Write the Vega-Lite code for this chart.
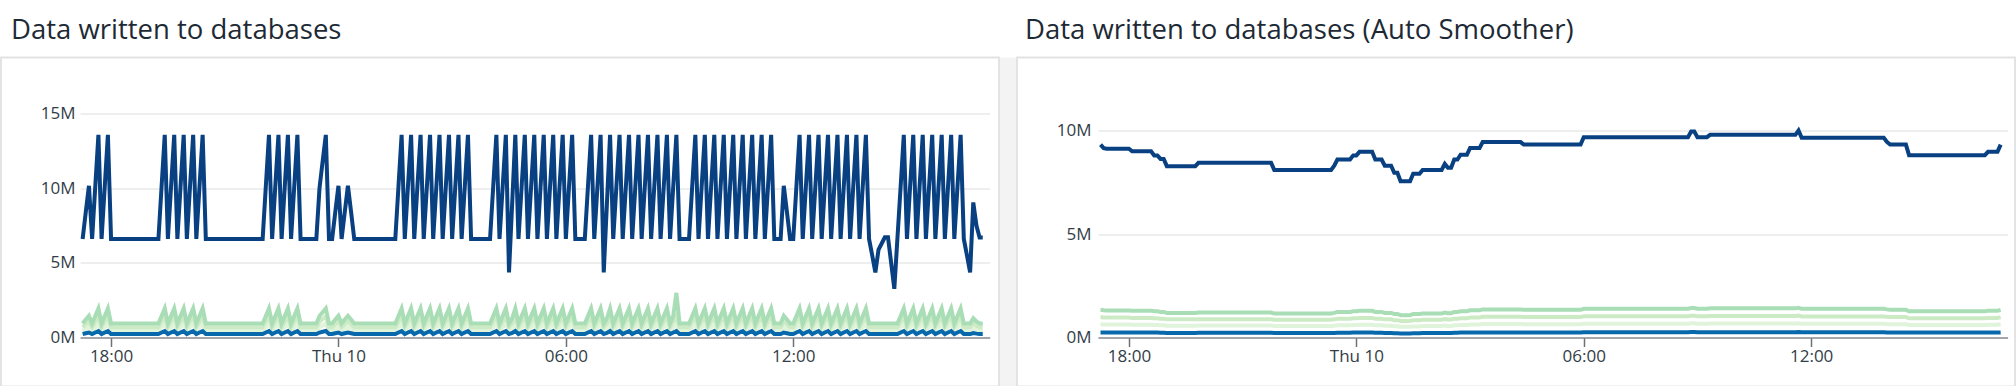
{
  "$schema": "https://vega.github.io/schema/vega-lite/v6.json",
  "background": "white",
  "padding": {"left": 0, "right": 0, "top": 15.5, "bottom": 0},
  "spacing": 0,
  "config": {
    "font": "Open Sans",
    "view": {"stroke": null},
    "title": {"font": "Open Sans", "fontSize": 27.5, "fontWeight": "normal", "color": "#1d2a35", "anchor": "start", "frame": "group", "baseline": "bottom", "offset": 13},
    "axis": {"labelFont": "Open Sans", "labelFontSize": 17, "labelColor": "#333d47", "title": null}
  },
  "datasets": {
    "left": [
      {"t":"2020-09-09T17:15Z","a":0.46,"b":0.71,"c":0.96,"d":0.25,"e":6.6},
      {"t":"2020-09-09T17:20Z","a":0.59,"b":0.9,"c":1.22,"d":0.3,"e":8.4},
      {"t":"2020-09-09T17:25Z","a":0.71,"b":1.09,"c":1.47,"d":0.35,"e":10.15},
      {"t":"2020-09-09T17:30Z","a":0.46,"b":0.71,"c":0.96,"d":0.25,"e":6.6},
      {"t":"2020-09-09T17:35Z","a":0.71,"b":1.08,"c":1.46,"d":0.35,"e":10.1},
      {"t":"2020-09-09T17:40Z","a":0.95,"b":1.45,"c":1.96,"d":0.45,"e":13.55},
      {"t":"2020-09-09T17:45Z","a":0.46,"b":0.71,"c":0.96,"d":0.25,"e":6.6},
      {"t":"2020-09-09T17:50Z","a":0.71,"b":1.08,"c":1.46,"d":0.35,"e":10.1},
      {"t":"2020-09-09T17:55Z","a":0.95,"b":1.45,"c":1.96,"d":0.45,"e":13.55},
      {"t":"2020-09-09T18:00Z","a":0.46,"b":0.71,"c":0.96,"d":0.25,"e":6.6},
      {"t":"2020-09-09T19:15Z","a":0.46,"b":0.71,"c":0.96,"d":0.25,"e":6.6},
      {"t":"2020-09-09T19:20Z","a":0.71,"b":1.08,"c":1.46,"d":0.35,"e":10.1},
      {"t":"2020-09-09T19:25Z","a":0.95,"b":1.45,"c":1.96,"d":0.45,"e":13.55},
      {"t":"2020-09-09T19:30Z","a":0.46,"b":0.71,"c":0.96,"d":0.25,"e":6.6},
      {"t":"2020-09-09T19:35Z","a":0.71,"b":1.08,"c":1.46,"d":0.35,"e":10.1},
      {"t":"2020-09-09T19:40Z","a":0.95,"b":1.45,"c":1.96,"d":0.45,"e":13.55},
      {"t":"2020-09-09T19:45Z","a":0.46,"b":0.71,"c":0.96,"d":0.25,"e":6.6},
      {"t":"2020-09-09T19:50Z","a":0.71,"b":1.08,"c":1.46,"d":0.35,"e":10.1},
      {"t":"2020-09-09T19:55Z","a":0.95,"b":1.45,"c":1.96,"d":0.45,"e":13.55},
      {"t":"2020-09-09T20:00Z","a":0.46,"b":0.71,"c":0.96,"d":0.25,"e":6.6},
      {"t":"2020-09-09T20:05Z","a":0.71,"b":1.08,"c":1.46,"d":0.35,"e":10.1},
      {"t":"2020-09-09T20:10Z","a":0.95,"b":1.45,"c":1.96,"d":0.45,"e":13.55},
      {"t":"2020-09-09T20:15Z","a":0.46,"b":0.71,"c":0.96,"d":0.25,"e":6.6},
      {"t":"2020-09-09T20:20Z","a":0.71,"b":1.08,"c":1.46,"d":0.35,"e":10.1},
      {"t":"2020-09-09T20:25Z","a":0.95,"b":1.45,"c":1.96,"d":0.45,"e":13.55},
      {"t":"2020-09-09T20:30Z","a":0.46,"b":0.71,"c":0.96,"d":0.25,"e":6.6},
      {"t":"2020-09-09T22:00Z","a":0.46,"b":0.71,"c":0.96,"d":0.25,"e":6.6},
      {"t":"2020-09-09T22:05Z","a":0.71,"b":1.08,"c":1.46,"d":0.35,"e":10.1},
      {"t":"2020-09-09T22:10Z","a":0.95,"b":1.45,"c":1.96,"d":0.45,"e":13.55},
      {"t":"2020-09-09T22:15Z","a":0.46,"b":0.71,"c":0.96,"d":0.25,"e":6.6},
      {"t":"2020-09-09T22:20Z","a":0.71,"b":1.08,"c":1.46,"d":0.35,"e":10.1},
      {"t":"2020-09-09T22:25Z","a":0.95,"b":1.45,"c":1.96,"d":0.45,"e":13.55},
      {"t":"2020-09-09T22:30Z","a":0.46,"b":0.71,"c":0.96,"d":0.25,"e":6.6},
      {"t":"2020-09-09T22:35Z","a":0.71,"b":1.08,"c":1.46,"d":0.35,"e":10.1},
      {"t":"2020-09-09T22:40Z","a":0.95,"b":1.45,"c":1.96,"d":0.45,"e":13.55},
      {"t":"2020-09-09T22:45Z","a":0.46,"b":0.71,"c":0.96,"d":0.25,"e":6.6},
      {"t":"2020-09-09T22:50Z","a":0.71,"b":1.08,"c":1.46,"d":0.35,"e":10.1},
      {"t":"2020-09-09T22:55Z","a":0.95,"b":1.45,"c":1.96,"d":0.45,"e":13.55},
      {"t":"2020-09-09T23:00Z","a":0.46,"b":0.71,"c":0.96,"d":0.25,"e":6.6},
      {"t":"2020-09-09T23:25Z","a":0.46,"b":0.71,"c":0.96,"d":0.25,"e":6.6},
      {"t":"2020-09-09T23:30Z","a":0.7,"b":1.07,"c":1.45,"d":0.35,"e":10.0},
      {"t":"2020-09-09T23:35Z","a":0.83,"b":1.26,"c":1.71,"d":0.4,"e":11.8},
      {"t":"2020-09-09T23:40Z","a":0.95,"b":1.45,"c":1.96,"d":0.45,"e":13.55},
      {"t":"2020-09-09T23:45Z","a":0.46,"b":0.71,"c":0.96,"d":0.25,"e":6.6},
      {"t":"2020-09-09T23:50Z","a":0.46,"b":0.71,"c":0.96,"d":0.25,"e":6.6},
      {"t":"2020-09-09T23:55Z","a":0.59,"b":0.9,"c":1.22,"d":0.3,"e":8.4},
      {"t":"2020-09-10T00:00Z","a":0.71,"b":1.09,"c":1.47,"d":0.35,"e":10.15},
      {"t":"2020-09-10T00:05Z","a":0.46,"b":0.71,"c":0.96,"d":0.25,"e":6.6},
      {"t":"2020-09-10T00:10Z","a":0.59,"b":0.9,"c":1.22,"d":0.3,"e":8.4},
      {"t":"2020-09-10T00:15Z","a":0.71,"b":1.09,"c":1.47,"d":0.35,"e":10.15},
      {"t":"2020-09-10T00:20Z","a":0.59,"b":0.9,"c":1.22,"d":0.3,"e":8.4},
      {"t":"2020-09-10T00:25Z","a":0.46,"b":0.71,"c":0.96,"d":0.25,"e":6.6},
      {"t":"2020-09-10T01:30Z","a":0.46,"b":0.71,"c":0.96,"d":0.25,"e":6.6},
      {"t":"2020-09-10T01:35Z","a":0.71,"b":1.08,"c":1.46,"d":0.35,"e":10.1},
      {"t":"2020-09-10T01:40Z","a":0.95,"b":1.45,"c":1.96,"d":0.45,"e":13.55},
      {"t":"2020-09-10T01:45Z","a":0.46,"b":0.71,"c":0.96,"d":0.25,"e":6.6},
      {"t":"2020-09-10T01:50Z","a":0.71,"b":1.08,"c":1.46,"d":0.35,"e":10.1},
      {"t":"2020-09-10T01:55Z","a":0.95,"b":1.45,"c":1.96,"d":0.45,"e":13.55},
      {"t":"2020-09-10T02:00Z","a":0.46,"b":0.71,"c":0.96,"d":0.25,"e":6.6},
      {"t":"2020-09-10T02:05Z","a":0.71,"b":1.08,"c":1.46,"d":0.35,"e":10.1},
      {"t":"2020-09-10T02:10Z","a":0.95,"b":1.45,"c":1.96,"d":0.45,"e":13.55},
      {"t":"2020-09-10T02:15Z","a":0.46,"b":0.71,"c":0.96,"d":0.25,"e":6.6},
      {"t":"2020-09-10T02:20Z","a":0.71,"b":1.08,"c":1.46,"d":0.35,"e":10.1},
      {"t":"2020-09-10T02:25Z","a":0.95,"b":1.45,"c":1.96,"d":0.45,"e":13.55},
      {"t":"2020-09-10T02:30Z","a":0.46,"b":0.71,"c":0.96,"d":0.25,"e":6.6},
      {"t":"2020-09-10T02:35Z","a":0.71,"b":1.08,"c":1.46,"d":0.35,"e":10.1},
      {"t":"2020-09-10T02:40Z","a":0.95,"b":1.45,"c":1.96,"d":0.45,"e":13.55},
      {"t":"2020-09-10T02:45Z","a":0.46,"b":0.71,"c":0.96,"d":0.25,"e":6.6},
      {"t":"2020-09-10T02:50Z","a":0.71,"b":1.08,"c":1.46,"d":0.35,"e":10.1},
      {"t":"2020-09-10T02:55Z","a":0.95,"b":1.45,"c":1.96,"d":0.45,"e":13.55},
      {"t":"2020-09-10T03:00Z","a":0.46,"b":0.71,"c":0.96,"d":0.25,"e":6.6},
      {"t":"2020-09-10T03:05Z","a":0.71,"b":1.08,"c":1.46,"d":0.35,"e":10.1},
      {"t":"2020-09-10T03:10Z","a":0.95,"b":1.45,"c":1.96,"d":0.45,"e":13.55},
      {"t":"2020-09-10T03:15Z","a":0.46,"b":0.71,"c":0.96,"d":0.25,"e":6.6},
      {"t":"2020-09-10T03:20Z","a":0.71,"b":1.08,"c":1.46,"d":0.35,"e":10.1},
      {"t":"2020-09-10T03:25Z","a":0.95,"b":1.45,"c":1.96,"d":0.45,"e":13.55},
      {"t":"2020-09-10T03:30Z","a":0.46,"b":0.71,"c":0.96,"d":0.25,"e":6.6},
      {"t":"2020-09-10T04:00Z","a":0.46,"b":0.71,"c":0.96,"d":0.25,"e":6.6},
      {"t":"2020-09-10T04:05Z","a":0.71,"b":1.08,"c":1.46,"d":0.35,"e":10.1},
      {"t":"2020-09-10T04:10Z","a":0.95,"b":1.45,"c":1.96,"d":0.45,"e":13.55},
      {"t":"2020-09-10T04:15Z","a":0.46,"b":0.71,"c":0.96,"d":0.25,"e":6.6},
      {"t":"2020-09-10T04:20Z","a":0.71,"b":1.08,"c":1.46,"d":0.35,"e":10.1},
      {"t":"2020-09-10T04:25Z","a":0.95,"b":1.45,"c":1.96,"d":0.45,"e":13.55},
      {"t":"2020-09-10T04:30Z","a":0.46,"b":0.71,"c":0.96,"d":0.25,"e":4.37},
      {"t":"2020-09-10T04:35Z","a":0.63,"b":0.96,"c":1.3,"d":0.32,"e":8.96},
      {"t":"2020-09-10T04:40Z","a":0.95,"b":1.45,"c":1.96,"d":0.45,"e":13.55},
      {"t":"2020-09-10T04:45Z","a":0.46,"b":0.71,"c":0.96,"d":0.25,"e":6.6},
      {"t":"2020-09-10T04:50Z","a":0.71,"b":1.08,"c":1.46,"d":0.35,"e":10.1},
      {"t":"2020-09-10T04:55Z","a":0.95,"b":1.45,"c":1.96,"d":0.45,"e":13.55},
      {"t":"2020-09-10T05:00Z","a":0.46,"b":0.71,"c":0.96,"d":0.25,"e":6.6},
      {"t":"2020-09-10T05:05Z","a":0.71,"b":1.08,"c":1.46,"d":0.35,"e":10.1},
      {"t":"2020-09-10T05:10Z","a":0.95,"b":1.45,"c":1.96,"d":0.45,"e":13.55},
      {"t":"2020-09-10T05:15Z","a":0.46,"b":0.71,"c":0.96,"d":0.25,"e":6.6},
      {"t":"2020-09-10T05:20Z","a":0.71,"b":1.08,"c":1.46,"d":0.35,"e":10.1},
      {"t":"2020-09-10T05:25Z","a":0.95,"b":1.45,"c":1.96,"d":0.45,"e":13.55},
      {"t":"2020-09-10T05:30Z","a":0.46,"b":0.71,"c":0.96,"d":0.25,"e":6.6},
      {"t":"2020-09-10T05:35Z","a":0.71,"b":1.08,"c":1.46,"d":0.35,"e":10.1},
      {"t":"2020-09-10T05:40Z","a":0.95,"b":1.45,"c":1.96,"d":0.45,"e":13.55},
      {"t":"2020-09-10T05:45Z","a":0.46,"b":0.71,"c":0.96,"d":0.25,"e":6.6},
      {"t":"2020-09-10T05:50Z","a":0.71,"b":1.08,"c":1.46,"d":0.35,"e":10.1},
      {"t":"2020-09-10T05:55Z","a":0.95,"b":1.45,"c":1.96,"d":0.45,"e":13.55},
      {"t":"2020-09-10T06:00Z","a":0.46,"b":0.71,"c":0.96,"d":0.25,"e":6.6},
      {"t":"2020-09-10T06:05Z","a":0.71,"b":1.08,"c":1.46,"d":0.35,"e":10.1},
      {"t":"2020-09-10T06:10Z","a":0.95,"b":1.45,"c":1.96,"d":0.45,"e":13.55},
      {"t":"2020-09-10T06:15Z","a":0.46,"b":0.71,"c":0.96,"d":0.25,"e":6.6},
      {"t":"2020-09-10T06:30Z","a":0.46,"b":0.71,"c":0.96,"d":0.25,"e":6.6},
      {"t":"2020-09-10T06:35Z","a":0.71,"b":1.08,"c":1.46,"d":0.35,"e":10.1},
      {"t":"2020-09-10T06:40Z","a":0.95,"b":1.45,"c":1.96,"d":0.45,"e":13.55},
      {"t":"2020-09-10T06:45Z","a":0.46,"b":0.71,"c":0.96,"d":0.25,"e":6.6},
      {"t":"2020-09-10T06:50Z","a":0.71,"b":1.08,"c":1.46,"d":0.35,"e":10.1},
      {"t":"2020-09-10T06:55Z","a":0.95,"b":1.45,"c":1.96,"d":0.45,"e":13.55},
      {"t":"2020-09-10T07:00Z","a":0.46,"b":0.71,"c":0.96,"d":0.25,"e":4.37},
      {"t":"2020-09-10T07:05Z","a":0.63,"b":0.96,"c":1.3,"d":0.32,"e":8.96},
      {"t":"2020-09-10T07:10Z","a":0.95,"b":1.45,"c":1.96,"d":0.45,"e":13.55},
      {"t":"2020-09-10T07:15Z","a":0.46,"b":0.71,"c":0.96,"d":0.25,"e":6.6},
      {"t":"2020-09-10T07:20Z","a":0.71,"b":1.08,"c":1.46,"d":0.35,"e":10.1},
      {"t":"2020-09-10T07:25Z","a":0.95,"b":1.45,"c":1.96,"d":0.45,"e":13.55},
      {"t":"2020-09-10T07:30Z","a":0.46,"b":0.71,"c":0.96,"d":0.25,"e":6.6},
      {"t":"2020-09-10T07:35Z","a":0.71,"b":1.08,"c":1.46,"d":0.35,"e":10.1},
      {"t":"2020-09-10T07:40Z","a":0.95,"b":1.45,"c":1.96,"d":0.45,"e":13.55},
      {"t":"2020-09-10T07:45Z","a":0.46,"b":0.71,"c":0.96,"d":0.25,"e":6.6},
      {"t":"2020-09-10T07:50Z","a":0.71,"b":1.08,"c":1.46,"d":0.35,"e":10.1},
      {"t":"2020-09-10T07:55Z","a":0.95,"b":1.45,"c":1.96,"d":0.45,"e":13.55},
      {"t":"2020-09-10T08:00Z","a":0.46,"b":0.71,"c":0.96,"d":0.25,"e":6.6},
      {"t":"2020-09-10T08:05Z","a":0.71,"b":1.08,"c":1.46,"d":0.35,"e":10.1},
      {"t":"2020-09-10T08:10Z","a":0.95,"b":1.45,"c":1.96,"d":0.45,"e":13.55},
      {"t":"2020-09-10T08:15Z","a":0.46,"b":0.71,"c":0.96,"d":0.25,"e":6.6},
      {"t":"2020-09-10T08:20Z","a":0.71,"b":1.08,"c":1.46,"d":0.35,"e":10.1},
      {"t":"2020-09-10T08:25Z","a":0.95,"b":1.45,"c":1.96,"d":0.45,"e":13.55},
      {"t":"2020-09-10T08:30Z","a":0.46,"b":0.71,"c":0.96,"d":0.25,"e":6.6},
      {"t":"2020-09-10T08:35Z","a":0.71,"b":1.08,"c":1.46,"d":0.35,"e":10.1},
      {"t":"2020-09-10T08:40Z","a":0.95,"b":1.45,"c":1.96,"d":0.45,"e":13.55},
      {"t":"2020-09-10T08:45Z","a":0.46,"b":0.71,"c":0.96,"d":0.25,"e":6.6},
      {"t":"2020-09-10T08:50Z","a":0.71,"b":1.08,"c":1.46,"d":0.35,"e":10.1},
      {"t":"2020-09-10T08:55Z","a":0.95,"b":1.45,"c":3.0,"d":0.45,"e":13.55},
      {"t":"2020-09-10T09:00Z","a":0.46,"b":0.71,"c":0.96,"d":0.25,"e":6.6},
      {"t":"2020-09-10T09:15Z","a":0.46,"b":0.71,"c":0.96,"d":0.25,"e":6.6},
      {"t":"2020-09-10T09:20Z","a":0.71,"b":1.08,"c":1.46,"d":0.35,"e":10.1},
      {"t":"2020-09-10T09:25Z","a":0.95,"b":1.45,"c":1.96,"d":0.45,"e":13.55},
      {"t":"2020-09-10T09:30Z","a":0.46,"b":0.71,"c":0.96,"d":0.25,"e":6.6},
      {"t":"2020-09-10T09:35Z","a":0.71,"b":1.08,"c":1.46,"d":0.35,"e":10.1},
      {"t":"2020-09-10T09:40Z","a":0.95,"b":1.45,"c":1.96,"d":0.45,"e":13.55},
      {"t":"2020-09-10T09:45Z","a":0.46,"b":0.71,"c":0.96,"d":0.25,"e":6.6},
      {"t":"2020-09-10T09:50Z","a":0.71,"b":1.08,"c":1.46,"d":0.35,"e":10.1},
      {"t":"2020-09-10T09:55Z","a":0.95,"b":1.45,"c":1.96,"d":0.45,"e":13.55},
      {"t":"2020-09-10T10:00Z","a":0.46,"b":0.71,"c":0.96,"d":0.25,"e":6.6},
      {"t":"2020-09-10T10:05Z","a":0.71,"b":1.08,"c":1.46,"d":0.35,"e":10.1},
      {"t":"2020-09-10T10:10Z","a":0.95,"b":1.45,"c":1.96,"d":0.45,"e":13.55},
      {"t":"2020-09-10T10:15Z","a":0.46,"b":0.71,"c":0.96,"d":0.25,"e":6.6},
      {"t":"2020-09-10T10:20Z","a":0.71,"b":1.08,"c":1.46,"d":0.35,"e":10.1},
      {"t":"2020-09-10T10:25Z","a":0.95,"b":1.45,"c":1.96,"d":0.45,"e":13.55},
      {"t":"2020-09-10T10:30Z","a":0.46,"b":0.71,"c":0.96,"d":0.25,"e":6.6},
      {"t":"2020-09-10T10:35Z","a":0.71,"b":1.08,"c":1.46,"d":0.35,"e":10.1},
      {"t":"2020-09-10T10:40Z","a":0.95,"b":1.45,"c":1.96,"d":0.45,"e":13.55},
      {"t":"2020-09-10T10:45Z","a":0.46,"b":0.71,"c":0.96,"d":0.25,"e":6.6},
      {"t":"2020-09-10T10:50Z","a":0.71,"b":1.08,"c":1.46,"d":0.35,"e":10.1},
      {"t":"2020-09-10T10:55Z","a":0.95,"b":1.45,"c":1.96,"d":0.45,"e":13.55},
      {"t":"2020-09-10T11:00Z","a":0.46,"b":0.71,"c":0.96,"d":0.25,"e":6.6},
      {"t":"2020-09-10T11:05Z","a":0.71,"b":1.08,"c":1.46,"d":0.35,"e":10.1},
      {"t":"2020-09-10T11:10Z","a":0.95,"b":1.45,"c":1.96,"d":0.45,"e":13.55},
      {"t":"2020-09-10T11:15Z","a":0.46,"b":0.71,"c":0.96,"d":0.25,"e":6.6},
      {"t":"2020-09-10T11:20Z","a":0.71,"b":1.08,"c":1.46,"d":0.35,"e":10.1},
      {"t":"2020-09-10T11:25Z","a":0.95,"b":1.45,"c":1.96,"d":0.45,"e":13.55},
      {"t":"2020-09-10T11:30Z","a":0.46,"b":0.71,"c":0.96,"d":0.25,"e":6.6},
      {"t":"2020-09-10T11:40Z","a":0.46,"b":0.71,"c":0.96,"d":0.25,"e":6.6},
      {"t":"2020-09-10T11:45Z","a":0.71,"b":1.09,"c":1.47,"d":0.35,"e":10.15},
      {"t":"2020-09-10T11:50Z","a":0.59,"b":0.9,"c":1.22,"d":0.3,"e":8.4},
      {"t":"2020-09-10T11:55Z","a":0.46,"b":0.71,"c":0.96,"d":0.25,"e":6.6},
      {"t":"2020-09-10T12:00Z","a":0.46,"b":0.71,"c":0.96,"d":0.25,"e":6.6},
      {"t":"2020-09-10T12:05Z","a":0.71,"b":1.08,"c":1.46,"d":0.35,"e":10.1},
      {"t":"2020-09-10T12:10Z","a":0.95,"b":1.45,"c":1.96,"d":0.45,"e":13.55},
      {"t":"2020-09-10T12:15Z","a":0.46,"b":0.71,"c":0.96,"d":0.25,"e":6.6},
      {"t":"2020-09-10T12:20Z","a":0.71,"b":1.08,"c":1.46,"d":0.35,"e":10.1},
      {"t":"2020-09-10T12:25Z","a":0.95,"b":1.45,"c":1.96,"d":0.45,"e":13.55},
      {"t":"2020-09-10T12:30Z","a":0.46,"b":0.71,"c":0.96,"d":0.25,"e":6.6},
      {"t":"2020-09-10T12:35Z","a":0.71,"b":1.08,"c":1.46,"d":0.35,"e":10.1},
      {"t":"2020-09-10T12:40Z","a":0.95,"b":1.45,"c":1.96,"d":0.45,"e":13.55},
      {"t":"2020-09-10T12:45Z","a":0.46,"b":0.71,"c":0.96,"d":0.25,"e":6.6},
      {"t":"2020-09-10T12:50Z","a":0.71,"b":1.08,"c":1.46,"d":0.35,"e":10.1},
      {"t":"2020-09-10T12:55Z","a":0.95,"b":1.45,"c":1.96,"d":0.45,"e":13.55},
      {"t":"2020-09-10T13:00Z","a":0.46,"b":0.71,"c":0.96,"d":0.25,"e":6.6},
      {"t":"2020-09-10T13:05Z","a":0.71,"b":1.08,"c":1.46,"d":0.35,"e":10.1},
      {"t":"2020-09-10T13:10Z","a":0.95,"b":1.45,"c":1.96,"d":0.45,"e":13.55},
      {"t":"2020-09-10T13:15Z","a":0.46,"b":0.71,"c":0.96,"d":0.25,"e":6.6},
      {"t":"2020-09-10T13:20Z","a":0.71,"b":1.08,"c":1.46,"d":0.35,"e":10.1},
      {"t":"2020-09-10T13:25Z","a":0.95,"b":1.45,"c":1.96,"d":0.45,"e":13.55},
      {"t":"2020-09-10T13:30Z","a":0.46,"b":0.71,"c":0.96,"d":0.25,"e":6.6},
      {"t":"2020-09-10T13:35Z","a":0.71,"b":1.08,"c":1.46,"d":0.35,"e":10.1},
      {"t":"2020-09-10T13:40Z","a":0.95,"b":1.45,"c":1.96,"d":0.45,"e":13.55},
      {"t":"2020-09-10T13:45Z","a":0.46,"b":0.71,"c":0.96,"d":0.25,"e":6.6},
      {"t":"2020-09-10T13:50Z","a":0.71,"b":1.08,"c":1.46,"d":0.35,"e":10.1},
      {"t":"2020-09-10T13:55Z","a":0.95,"b":1.45,"c":1.96,"d":0.45,"e":13.55},
      {"t":"2020-09-10T14:00Z","a":0.46,"b":0.71,"c":0.96,"d":0.25,"e":6.6},
      {"t":"2020-09-10T14:05Z","a":0.46,"b":0.71,"c":0.96,"d":0.25,"e":5.5},
      {"t":"2020-09-10T14:10Z","a":0.46,"b":0.71,"c":0.96,"d":0.25,"e":4.37},
      {"t":"2020-09-10T14:15Z","a":0.46,"b":0.71,"c":0.96,"d":0.25,"e":5.89},
      {"t":"2020-09-10T14:20Z","a":0.46,"b":0.71,"c":0.96,"d":0.25,"e":6.3},
      {"t":"2020-09-10T14:25Z","a":0.46,"b":0.71,"c":0.96,"d":0.25,"e":6.71},
      {"t":"2020-09-10T14:30Z","a":0.46,"b":0.71,"c":0.96,"d":0.25,"e":6.71},
      {"t":"2020-09-10T14:35Z","a":0.46,"b":0.71,"c":0.96,"d":0.25,"e":5.0},
      {"t":"2020-09-10T14:40Z","a":0.46,"b":0.71,"c":0.96,"d":0.25,"e":3.27},
      {"t":"2020-09-10T14:45Z","a":0.46,"b":0.71,"c":0.96,"d":0.25,"e":6.7},
      {"t":"2020-09-10T14:50Z","a":0.71,"b":1.08,"c":1.46,"d":0.35,"e":10.1},
      {"t":"2020-09-10T14:55Z","a":0.95,"b":1.45,"c":1.96,"d":0.45,"e":13.55},
      {"t":"2020-09-10T15:00Z","a":0.46,"b":0.71,"c":0.96,"d":0.25,"e":6.6},
      {"t":"2020-09-10T15:05Z","a":0.71,"b":1.08,"c":1.46,"d":0.35,"e":10.1},
      {"t":"2020-09-10T15:10Z","a":0.95,"b":1.45,"c":1.96,"d":0.45,"e":13.55},
      {"t":"2020-09-10T15:15Z","a":0.46,"b":0.71,"c":0.96,"d":0.25,"e":6.6},
      {"t":"2020-09-10T15:20Z","a":0.71,"b":1.08,"c":1.46,"d":0.35,"e":10.1},
      {"t":"2020-09-10T15:25Z","a":0.95,"b":1.45,"c":1.96,"d":0.45,"e":13.55},
      {"t":"2020-09-10T15:30Z","a":0.46,"b":0.71,"c":0.96,"d":0.25,"e":6.6},
      {"t":"2020-09-10T15:35Z","a":0.71,"b":1.08,"c":1.46,"d":0.35,"e":10.1},
      {"t":"2020-09-10T15:40Z","a":0.95,"b":1.45,"c":1.96,"d":0.45,"e":13.55},
      {"t":"2020-09-10T15:45Z","a":0.46,"b":0.71,"c":0.96,"d":0.25,"e":6.6},
      {"t":"2020-09-10T15:50Z","a":0.71,"b":1.08,"c":1.46,"d":0.35,"e":10.1},
      {"t":"2020-09-10T15:55Z","a":0.95,"b":1.45,"c":1.96,"d":0.45,"e":13.55},
      {"t":"2020-09-10T16:00Z","a":0.46,"b":0.71,"c":0.96,"d":0.25,"e":6.6},
      {"t":"2020-09-10T16:05Z","a":0.71,"b":1.08,"c":1.46,"d":0.35,"e":10.1},
      {"t":"2020-09-10T16:10Z","a":0.95,"b":1.45,"c":1.96,"d":0.45,"e":13.55},
      {"t":"2020-09-10T16:15Z","a":0.46,"b":0.71,"c":0.96,"d":0.25,"e":6.6},
      {"t":"2020-09-10T16:20Z","a":0.71,"b":1.08,"c":1.46,"d":0.35,"e":10.1},
      {"t":"2020-09-10T16:25Z","a":0.95,"b":1.45,"c":1.96,"d":0.45,"e":13.55},
      {"t":"2020-09-10T16:30Z","a":0.46,"b":0.71,"c":0.96,"d":0.25,"e":6.6},
      {"t":"2020-09-10T16:35Z","a":0.46,"b":0.71,"c":0.96,"d":0.25,"e":5.5},
      {"t":"2020-09-10T16:40Z","a":0.46,"b":0.71,"c":0.96,"d":0.25,"e":4.37},
      {"t":"2020-09-10T16:45Z","a":0.63,"b":0.97,"c":1.31,"d":0.32,"e":9.04},
      {"t":"2020-09-10T16:50Z","a":0.53,"b":0.8,"c":1.09,"d":0.28,"e":7.5},
      {"t":"2020-09-10T16:55Z","a":0.46,"b":0.71,"c":0.96,"d":0.25,"e":6.7},
      {"t":"2020-09-10T17:00Z","a":0.46,"b":0.71,"c":0.96,"d":0.25,"e":6.7}
    ],
    "right": [
      {"t":"2020-09-09T17:15Z","a":0.65,"b":1.0,"c":1.35,"d":0.26,"e":9.32},
      {"t":"2020-09-09T17:20Z","a":0.64,"b":0.98,"c":1.33,"d":0.26,"e":9.15},
      {"t":"2020-09-09T17:25Z","a":0.64,"b":0.98,"c":1.32,"d":0.26,"e":9.12},
      {"t":"2020-09-09T18:00Z","a":0.64,"b":0.98,"c":1.32,"d":0.26,"e":9.12},
      {"t":"2020-09-09T18:05Z","a":0.63,"b":0.96,"c":1.31,"d":0.25,"e":9.0},
      {"t":"2020-09-09T18:35Z","a":0.63,"b":0.96,"c":1.31,"d":0.25,"e":9.0},
      {"t":"2020-09-09T18:40Z","a":0.62,"b":0.94,"c":1.28,"d":0.25,"e":8.8},
      {"t":"2020-09-09T18:45Z","a":0.62,"b":0.94,"c":1.28,"d":0.25,"e":8.8},
      {"t":"2020-09-09T18:50Z","a":0.6,"b":0.92,"c":1.25,"d":0.24,"e":8.63},
      {"t":"2020-09-09T18:55Z","a":0.6,"b":0.92,"c":1.25,"d":0.24,"e":8.63},
      {"t":"2020-09-09T19:00Z","a":0.58,"b":0.89,"c":1.2,"d":0.23,"e":8.28},
      {"t":"2020-09-09T19:45Z","a":0.58,"b":0.89,"c":1.2,"d":0.23,"e":8.28},
      {"t":"2020-09-09T19:50Z","a":0.59,"b":0.9,"c":1.22,"d":0.24,"e":8.44},
      {"t":"2020-09-09T21:45Z","a":0.59,"b":0.9,"c":1.22,"d":0.24,"e":8.44},
      {"t":"2020-09-09T21:50Z","a":0.57,"b":0.87,"c":1.17,"d":0.23,"e":8.1},
      {"t":"2020-09-09T23:20Z","a":0.57,"b":0.87,"c":1.17,"d":0.23,"e":8.1},
      {"t":"2020-09-09T23:25Z","a":0.58,"b":0.89,"c":1.2,"d":0.23,"e":8.3},
      {"t":"2020-09-09T23:30Z","a":0.6,"b":0.92,"c":1.25,"d":0.24,"e":8.6},
      {"t":"2020-09-09T23:50Z","a":0.6,"b":0.92,"c":1.25,"d":0.24,"e":8.6},
      {"t":"2020-09-09T23:55Z","a":0.62,"b":0.94,"c":1.28,"d":0.25,"e":8.8},
      {"t":"2020-09-10T00:00Z","a":0.62,"b":0.94,"c":1.28,"d":0.25,"e":8.8},
      {"t":"2020-09-10T00:05Z","a":0.63,"b":0.96,"c":1.3,"d":0.25,"e":8.97},
      {"t":"2020-09-10T00:25Z","a":0.63,"b":0.96,"c":1.3,"d":0.25,"e":8.97},
      {"t":"2020-09-10T00:30Z","a":0.6,"b":0.92,"c":1.25,"d":0.24,"e":8.6},
      {"t":"2020-09-10T00:40Z","a":0.6,"b":0.92,"c":1.25,"d":0.24,"e":8.6},
      {"t":"2020-09-10T00:45Z","a":0.58,"b":0.89,"c":1.2,"d":0.23,"e":8.3},
      {"t":"2020-09-10T00:55Z","a":0.58,"b":0.89,"c":1.2,"d":0.23,"e":8.3},
      {"t":"2020-09-10T01:00Z","a":0.56,"b":0.85,"c":1.15,"d":0.22,"e":7.96},
      {"t":"2020-09-10T01:05Z","a":0.56,"b":0.85,"c":1.15,"d":0.22,"e":7.96},
      {"t":"2020-09-10T01:10Z","a":0.53,"b":0.81,"c":1.09,"d":0.21,"e":7.55},
      {"t":"2020-09-10T01:25Z","a":0.53,"b":0.81,"c":1.09,"d":0.21,"e":7.55},
      {"t":"2020-09-10T01:30Z","a":0.55,"b":0.85,"c":1.15,"d":0.22,"e":7.91},
      {"t":"2020-09-10T01:40Z","a":0.55,"b":0.85,"c":1.15,"d":0.22,"e":7.91},
      {"t":"2020-09-10T01:45Z","a":0.57,"b":0.87,"c":1.17,"d":0.23,"e":8.1},
      {"t":"2020-09-10T02:15Z","a":0.57,"b":0.87,"c":1.17,"d":0.23,"e":8.1},
      {"t":"2020-09-10T02:20Z","a":0.59,"b":0.9,"c":1.22,"d":0.23,"e":8.39},
      {"t":"2020-09-10T02:25Z","a":0.57,"b":0.88,"c":1.19,"d":0.23,"e":8.2},
      {"t":"2020-09-10T02:30Z","a":0.57,"b":0.88,"c":1.19,"d":0.23,"e":8.2},
      {"t":"2020-09-10T02:35Z","a":0.6,"b":0.92,"c":1.25,"d":0.24,"e":8.6},
      {"t":"2020-09-10T02:40Z","a":0.6,"b":0.92,"c":1.25,"d":0.24,"e":8.6},
      {"t":"2020-09-10T02:45Z","a":0.62,"b":0.94,"c":1.28,"d":0.25,"e":8.83},
      {"t":"2020-09-10T02:55Z","a":0.62,"b":0.94,"c":1.28,"d":0.25,"e":8.83},
      {"t":"2020-09-10T03:00Z","a":0.64,"b":0.98,"c":1.33,"d":0.26,"e":9.15},
      {"t":"2020-09-10T03:15Z","a":0.64,"b":0.98,"c":1.33,"d":0.26,"e":9.15},
      {"t":"2020-09-10T03:20Z","a":0.66,"b":1.01,"c":1.37,"d":0.26,"e":9.44},
      {"t":"2020-09-10T04:20Z","a":0.66,"b":1.01,"c":1.37,"d":0.26,"e":9.44},
      {"t":"2020-09-10T04:25Z","a":0.65,"b":1.0,"c":1.35,"d":0.26,"e":9.32},
      {"t":"2020-09-10T05:55Z","a":0.65,"b":1.0,"c":1.35,"d":0.26,"e":9.32},
      {"t":"2020-09-10T06:00Z","a":0.68,"b":1.04,"c":1.4,"d":0.27,"e":9.68},
      {"t":"2020-09-10T08:45Z","a":0.68,"b":1.04,"c":1.4,"d":0.27,"e":9.68},
      {"t":"2020-09-10T08:50Z","a":0.7,"b":1.06,"c":1.44,"d":0.28,"e":9.95},
      {"t":"2020-09-10T08:55Z","a":0.7,"b":1.06,"c":1.44,"d":0.28,"e":9.95},
      {"t":"2020-09-10T09:00Z","a":0.68,"b":1.04,"c":1.4,"d":0.27,"e":9.68},
      {"t":"2020-09-10T09:15Z","a":0.68,"b":1.04,"c":1.4,"d":0.27,"e":9.68},
      {"t":"2020-09-10T09:20Z","a":0.69,"b":1.05,"c":1.42,"d":0.27,"e":9.79},
      {"t":"2020-09-10T11:35Z","a":0.69,"b":1.05,"c":1.42,"d":0.27,"e":9.79},
      {"t":"2020-09-10T11:40Z","a":0.7,"b":1.07,"c":1.45,"d":0.28,"e":10.0},
      {"t":"2020-09-10T11:45Z","a":0.68,"b":1.03,"c":1.4,"d":0.27,"e":9.65},
      {"t":"2020-09-10T13:55Z","a":0.68,"b":1.03,"c":1.4,"d":0.27,"e":9.65},
      {"t":"2020-09-10T14:00Z","a":0.66,"b":1.01,"c":1.37,"d":0.26,"e":9.45},
      {"t":"2020-09-10T14:05Z","a":0.65,"b":1.0,"c":1.35,"d":0.26,"e":9.32},
      {"t":"2020-09-10T14:30Z","a":0.65,"b":1.0,"c":1.35,"d":0.26,"e":9.32},
      {"t":"2020-09-10T14:35Z","a":0.62,"b":0.94,"c":1.28,"d":0.25,"e":8.81},
      {"t":"2020-09-10T16:35Z","a":0.62,"b":0.94,"c":1.28,"d":0.25,"e":8.81},
      {"t":"2020-09-10T16:40Z","a":0.63,"b":0.96,"c":1.3,"d":0.25,"e":8.97},
      {"t":"2020-09-10T16:55Z","a":0.63,"b":0.96,"c":1.3,"d":0.25,"e":8.97},
      {"t":"2020-09-10T17:00Z","a":0.65,"b":1.0,"c":1.35,"d":0.26,"e":9.32}
    ]
  },
  "hconcat": [
    {
      "title": {"text": "Data written to databases", "dx": 10},
      "width": 998,
      "height": 329,
      "view": {"fill": "white", "stroke": "#e3e3e6", "strokeWidth": 2},
      "data": {"name": "left"},
      "transform": [{"fold": ["a", "b", "c", "d", "e"], "as": ["series", "v"]}],
      "mark": {"type": "line"},
      "encoding": {
        "x": {
          "field": "t", "type": "temporal",
          "scale": {"type": "utc", "nice": false, "range": [79.1, 988.7],
            "domain": [{"year": 2020, "month": 9, "date": 9, "hours": 17, "minutes": 11, "utc": true}, {"year": 2020, "month": 9, "date": 10, "hours": 17, "minutes": 11, "utc": true}]},
          "axis": {
            "orient": "bottom", "offset": -49, "grid": false,
            "values": [{"year": 2020, "month": 9, "date": 9, "hours": 18, "utc": true}, {"year": 2020, "month": 9, "date": 10, "hours": 0, "utc": true}, {"year": 2020, "month": 9, "date": 10, "hours": 6, "utc": true}, {"year": 2020, "month": 9, "date": 10, "hours": 12, "utc": true}],
            "labelExpr": "utchours(datum.value) == 0 ? utcFormat(datum.value, '%a %d') : utcFormat(datum.value, '%H:%M')",
            "domainColor": "#8a8f94", "domainWidth": 1.5, "tickColor": "#6b7177", "tickSize": 9, "tickWidth": 1.5,
            "labelBaseline": "alphabetic", "labelPadding": 15, "labelFlush": false, "labelOverlap": false
          }
        },
        "y": {
          "field": "v", "type": "quantitative",
          "scale": {"domain": [0, 15], "range": [280.3, 55.7], "nice": false},
          "axis": {"orient": "left", "offset": -74, "values": [0, 5, 10, 15], "labelExpr": "datum.value + 'M'", "domain": false, "ticks": false, "tickSize": 0, "labelPadding": 0, "grid": true, "gridColor": "#e8e8ea", "gridWidth": 1.5}
        },
        "color": {"field": "series", "type": "nominal", "scale": {"domain": ["a", "b", "c", "d", "e"], "range": ["#e0f3db", "#ccebc5", "#a8ddb5", "#0868ac", "#084081"]}, "legend": null},
        "strokeWidth": {"field": "series", "type": "nominal", "scale": {"domain": ["a", "b", "c", "d", "e"], "range": [4, 4, 4, 4.5, 3.5]}, "legend": null}
      }
    },
    {
      "width": 16,
      "height": 386,
      "view": {"fill": "#f3f3f4", "stroke": null},
      "data": {"values": []},
      "mark": {"type": "point"}
    },
    {
      "title": {"text": "Data written to databases (Auto Smoother)", "dx": 8},
      "width": 998,
      "height": 329,
      "view": {"fill": "white", "stroke": "#e3e3e6", "strokeWidth": 2},
      "data": {"name": "right"},
      "transform": [{"fold": ["a", "b", "c", "d", "e"], "as": ["series", "v"]}],
      "mark": {"type": "line"},
      "encoding": {
        "x": {
          "field": "t", "type": "temporal",
          "scale": {"type": "utc", "nice": false, "range": [81, 990.6],
            "domain": [{"year": 2020, "month": 9, "date": 9, "hours": 17, "minutes": 11, "utc": true}, {"year": 2020, "month": 9, "date": 10, "hours": 17, "minutes": 11, "utc": true}]},
          "axis": {
            "orient": "bottom", "offset": -49, "grid": false,
            "values": [{"year": 2020, "month": 9, "date": 9, "hours": 18, "utc": true}, {"year": 2020, "month": 9, "date": 10, "hours": 0, "utc": true}, {"year": 2020, "month": 9, "date": 10, "hours": 6, "utc": true}, {"year": 2020, "month": 9, "date": 10, "hours": 12, "utc": true}],
            "labelExpr": "utchours(datum.value) == 0 ? utcFormat(datum.value, '%a %d') : utcFormat(datum.value, '%H:%M')",
            "domainColor": "#8a8f94", "domainWidth": 1.5, "tickColor": "#6b7177", "tickSize": 9, "tickWidth": 1.5,
            "labelBaseline": "alphabetic", "labelPadding": 15, "labelFlush": false, "labelOverlap": false
          }
        },
        "y": {
          "field": "v", "type": "quantitative",
          "scale": {"domain": [0, 10], "range": [280.3, 73], "nice": false},
          "axis": {"orient": "left", "offset": -74, "values": [0, 5, 10], "labelExpr": "datum.value + 'M'", "domain": false, "ticks": false, "tickSize": 0, "labelPadding": 0, "grid": true, "gridColor": "#e8e8ea", "gridWidth": 1.5}
        },
        "color": {"field": "series", "type": "nominal", "scale": {"domain": ["a", "b", "c", "d", "e"], "range": ["#e0f3db", "#ccebc5", "#a8ddb5", "#0868ac", "#084081"]}, "legend": null},
        "strokeWidth": {"field": "series", "type": "nominal", "scale": {"domain": ["a", "b", "c", "d", "e"], "range": [4, 4, 4, 4.5, 3.5]}, "legend": null}
      }
    }
  ],
  "resolve": {"scale": {"x": "independent", "y": "independent"}}
}
